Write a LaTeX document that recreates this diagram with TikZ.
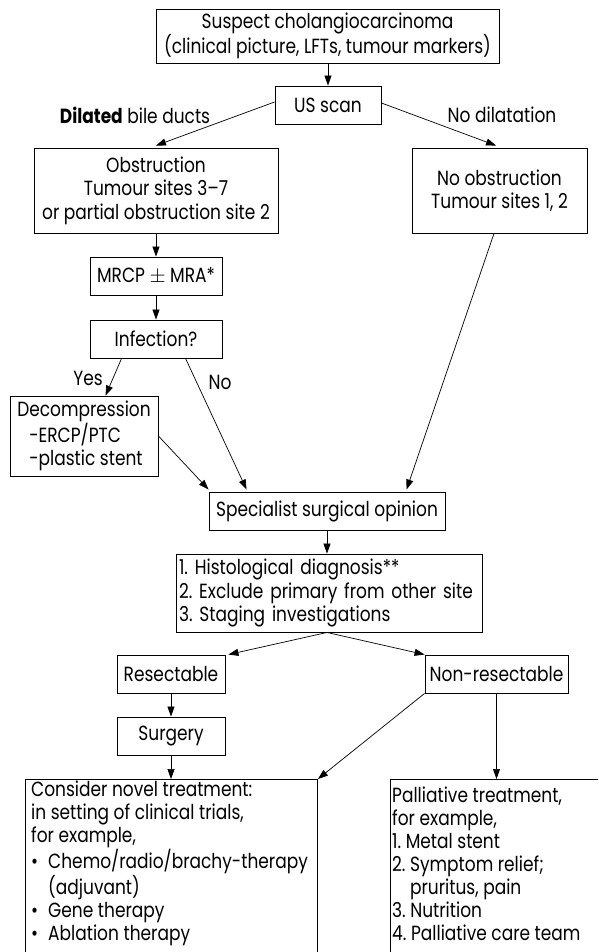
\documentclass[tikz,border=0pt]{standalone}
\usepackage{fontspec}
\setmainfont{Poppins}[FakeStretch=0.83]
\usetikzlibrary{arrows.meta}
\newcommand\fsz{\fontsize{20.5}{23.5}\selectfont\frenchspacing}
\newcommand\bul{\makebox[17pt][l]{\textbullet}}
\begin{document}
\begin{tikzpicture}[x=1pt,y=-1pt,
  box/.style={draw, line width=0.9pt, inner sep=0pt, align=center, font=\fsz},
  ar/.style={-{Triangle[length=10pt,width=7pt]}, line width=0.7pt},
  lab/.style={font=\fsz, inner sep=0pt},
  txt/.style={font=\fontsize{20.5}{23}\selectfont\frenchspacing, inner sep=0pt, align=left, anchor=base west}]
\path[use as bounding box, clip] (0,0) rectangle (598,952);
\fill[white] (0,0) rectangle (598,952);

\node[box, minimum width=343pt, minimum height=54pt] (top) at (327.5,36)
  {Suspect cholangiocarcinoma\\(clinical picture, LFTs, tumour markers)};
\node[box, minimum width=106pt, minimum height=38pt] (us) at (328,105) {US scan};
\node[box, minimum width=244pt, minimum height=85pt] (obs) at (156,190.5)
  {Obstruction\\Tumour sites 3--7\\or partial obstruction site 2};
\node[box, minimum width=175pt, minimum height=85pt] (noobs) at (499.5,190.5)
  {No obstruction\\Tumour sites 1, 2};
\node[box, minimum width=132pt, minimum height=38pt] (mrcp) at (156,276) {MRCP $\pm$ MRA*};
\node[box, minimum width=132pt, minimum height=38pt] (inf) at (156,339) {Infection?};
\node[box, align=left, minimum width=148pt, minimum height=80pt] (dec) at (84,436)
  {Decompression\\\hspace*{12pt}-ERCP/PTC\\\hspace*{12pt}-plastic stent};
\node[box, minimum width=236pt, minimum height=38pt] (spec) at (327,511) {Specialist surgical opinion};
\node[box, align=left, text width=300pt, inner xsep=3pt, minimum height=78pt] (histo) at (329,593)
  {1. Histological diagnosis**\\2. Exclude primary from other site\\3. Staging investigations};
\node[box, minimum width=108pt, minimum height=38pt] (res) at (171,674) {Resectable};
\node[box, minimum width=143pt, minimum height=38pt] (nonres) at (496.5,674) {Non-resectable};
\node[box, minimum width=108pt, minimum height=38pt] (surg) at (171,736) {Surgery};
\node[box, anchor=north west, minimum width=292pt, minimum height=200pt] (novel) at (25,779) {};
\node[box, anchor=north west, minimum width=300pt, minimum height=200pt] (pall) at (390,779) {};

\node[txt] (noveltext) at (31,940)
  {Consider novel treatment:\\in setting of clinical trials,\\for example,\\
   \bul Chemo/radio/brachy-therapy\\\hspace*{17pt}(adjuvant)\\
   \bul Gene therapy\\\bul Ablation therapy};
\node[txt] (palltext) at (392,940)
  {Palliative treatment,\\for example,\\1. Metal stent\\2. Symptom relief;\\
   \phantom{2. }pruritus, pain\\3. Nutrition\\4. Palliative care team};

\node[lab] (ldil) at (135,115) {\textbf{Dilated} bile ducts};
\node[lab] (lno) at (502,115) {No dilatation};
\node[lab] (lyes) at (88,378) {Yes};
\node[lab] (lno2) at (220,382) {No};

\draw[ar] (us.north |- top.south) -- (us.north);
\draw[ar] ([yshift=3pt]us.west) -- ([yshift=2pt]obs.north);
\draw[ar] ([yshift=2pt]us.east) -- ([xshift=-3.5pt,yshift=2pt]noobs.north);
\draw[ar] (mrcp.north |- obs.south) -- (mrcp.north);
\draw[ar] (mrcp.south) -- (inf.north);
\draw[ar] ([xshift=32pt]inf.south west) -- ([xshift=96pt]dec.north west);
\draw[ar] ([xshift=96pt]inf.south west) -- ([xshift=38pt,yshift=2pt]spec.north west);
\draw[ar] (dec.east) -- ([yshift=2pt]spec.north west);
\draw[ar] ([xshift=-5.5pt]noobs.south) -- ([xshift=198pt,yshift=2pt]spec.north west);
\draw[ar] (spec.south) -- (spec.south |- histo.north);
\draw[ar] (spec.south |- histo.south) -- ([xshift=3pt]res.north east);
\draw[ar] (spec.south |- histo.south) -- (nonres.north west);
\draw[ar] (res.south) -- (surg.north);
\draw[ar] (surg.south) -- (surg.south |- novel.north);
\draw[ar] (nonres.south west) -- (novel.north east);
\draw[ar] (nonres.south) -- (nonres.south |- pall.north);
\end{tikzpicture}
\end{document}
